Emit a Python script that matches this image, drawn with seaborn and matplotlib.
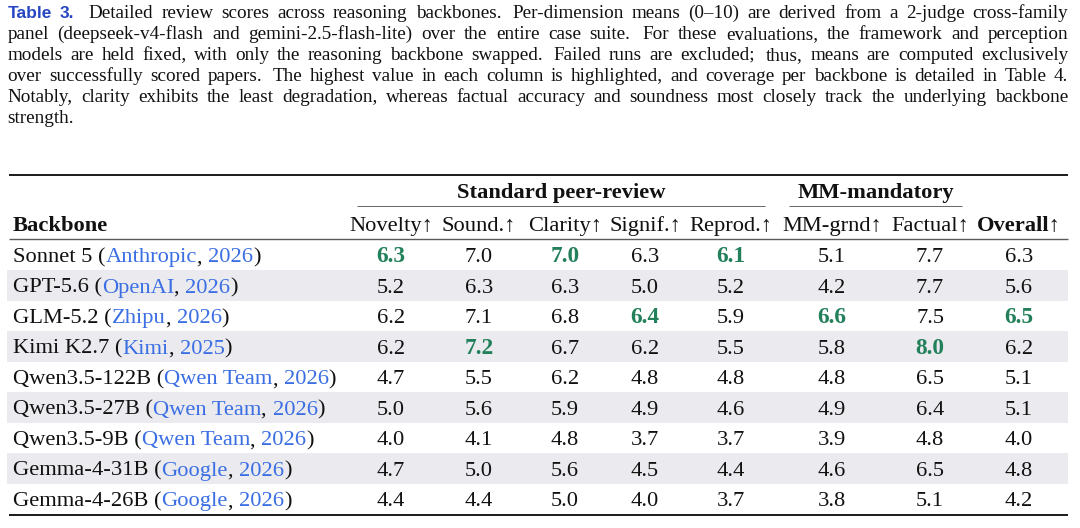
import matplotlib
matplotlib.use("Agg")
import matplotlib.pyplot as plt
import matplotlib.transforms as mtransforms
from matplotlib.colors import ListedColormap
import seaborn as sns
import numpy as np
import pandas as pd

# ---------------- data ----------------
backbones = ["Sonnet 5", "GPT-5.6", "GLM-5.2", "Kimi K2.7", "Qwen3.5-122B",
             "Qwen3.5-27B", "Qwen3.5-9B", "Gemma-4-31B", "Gemma-4-26B"]
orgs = ["Anthropic", "OpenAI", "Zhipu", "Kimi", "Qwen Team", "Qwen Team",
        "Qwen Team", "Google", "Google"]
years = ["2026", "2026", "2026", "2025", "2026", "2026", "2026", "2026", "2026"]
columns = ["Novelty", "Sound.", "Clarity", "Signif.", "Reprod.", "MM-grnd",
           "Factual", "Overall"]
novelty = [6.3, 5.2, 6.2, 6.2, 4.7, 5.0, 4.0, 4.7, 4.4]
soundness = [7.0, 6.3, 7.1, 7.2, 5.5, 5.6, 4.1, 5.0, 4.4]
clarity = [7.0, 6.3, 6.8, 6.7, 6.2, 5.9, 4.8, 5.6, 5.0]
significance = [6.3, 5.0, 6.4, 6.2, 4.8, 4.9, 3.7, 4.5, 4.0]
reproducibility = [6.1, 5.2, 5.9, 5.5, 4.8, 4.6, 3.7, 4.4, 3.7]
mm_grounding = [5.1, 4.2, 6.6, 5.8, 4.8, 4.9, 3.9, 4.6, 3.8]
factual = [7.7, 7.7, 7.5, 8.0, 6.5, 6.4, 4.8, 6.5, 5.1]
overall = [6.3, 5.6, 6.5, 6.2, 5.1, 5.1, 4.0, 4.8, 4.2]
groups = ["Standard peer-review", "MM-mandatory"]

caption_label = "Table 3."
caption_lines = [
    "Detailed review scores across reasoning backbones. Per-dimension means (0\u201310) are derived from a 2-judge cross-family",
    "panel (deepseek-v4-flash and gemini-2.5-flash-lite) over the entire case suite. For these evaluations, the framework and perception",
    "models are held fixed, with only the reasoning backbone swapped. Failed runs are excluded; thus, means are computed exclusively",
    "over successfully scored papers. The highest value in each column is highlighted, and coverage per backbone is detailed in Table 4.",
    "Notably, clarity exhibits the least degradation, whereas factual accuracy and soundness most closely track the underlying backbone",
    "strength.",
]

df = pd.DataFrame(
    dict(zip(columns, [novelty, soundness, clarity, significance,
                       reproducibility, mm_grounding, factual, overall])),
    index=backbones)

# ---------------- style / layout ----------------
W, H = 1080, 528
SERIF = ["Liberation Serif", "DejaVu Serif"]
SANS = ["Liberation Sans", "DejaVu Sans"]
BLACK = "#111111"
LINK = "#3b6fe3"
LABEL_BLUE = "#2747c2"
GREEN = "#22805a"
STRIPE = "#ebebef"

CAP_FS = 13.8
LABEL_FS = 12.5
TAB_FS = 16.2

cap_x0, cap_x1 = 7.5, 1068
cap_base0, cap_step = 17.6, 21.0

rule_x0, rule_x1 = 9, 1068
top_rule_y, mid_rule_y, bot_rule_y = 174.5, 239.0, 514.5
body_top, body_bot = 239.5, 514.0
group_base, cmid_y, head_base = 198, 206, 231
col_x = [391, 479, 565, 645, 731, 832, 930, 1019]
group_span = [(357, 765), (789, 962)]
text_x0 = 13

sns.set_theme(style="white")
plt.rcParams["font.family"] = SERIF

fig = plt.figure(figsize=(W / 100, H / 100), dpi=100)
ax = fig.add_axes([0, 0, 1, 1])
ax.set_xlim(0, W)
ax.set_ylim(H, 0)
ax.axis("off")
ax.set_zorder(2)
ax.patch.set_alpha(0)
renderer = fig.canvas.get_renderer()


def width(txt, **kw):
    t = ax.text(0, 0, txt, **kw)
    w = t.get_window_extent(renderer).width
    t.remove()
    return w


def prefix_width(txt, **kw):
    bar = width("|", **kw)
    return width(txt + "|", **kw) - bar


# ---------------- caption (justified) ----------------
cap_kw = dict(fontsize=CAP_FS, family=SERIF, color=BLACK)
lab_kw = dict(fontsize=LABEL_FS, family=SANS, weight="bold", color=LABEL_BLUE)
for li, line in enumerate(caption_lines):
    y = cap_base0 + li * cap_step
    tokens = []
    if li == 0:
        for w_ in caption_label.split(" "):
            tokens.append((w_, lab_kw))
    for w_ in line.split(" "):
        tokens.append((w_, cap_kw))
    widths = [width(t, **k) for t, k in tokens]
    last = li == len(caption_lines) - 1
    weights = []
    for i in range(len(tokens) - 1):
        t = tokens[i][0]
        wgt = 1.0
        if li == 0 and i == 1:
            wgt = 1.8
        elif t.endswith(".") or t.endswith(";"):
            wgt = 1.4
        weights.append(wgt)
    if last:
        gap_unit = width("a a", **cap_kw) - width("aa", **cap_kw)
    else:
        gap_unit = (cap_x1 - cap_x0 - sum(widths)) / sum(weights)
    x = cap_x0
    for i, ((t, k), wd) in enumerate(zip(tokens, widths)):
        ax.text(x, y, t, ha="left", va="baseline", **k)
        if i < len(weights):
            x += wd + gap_unit * weights[i]

# ---------------- table background stripes (seaborn heatmap) ----------------
bax = fig.add_axes([(rule_x0 - 2) / W, 1 - body_bot / H,
                    (rule_x1 - rule_x0 + 2) / W, (body_bot - body_top) / H])
bax.set_zorder(1)
stripe = pd.DataFrame({"band": [i % 2 for i in range(len(backbones))]},
                      index=backbones)
sns.heatmap(stripe, cmap=ListedColormap(["white", STRIPE]), vmin=0, vmax=1,
            cbar=False, ax=bax, xticklabels=False, yticklabels=False)
bax.axis("off")

# x in pixel space of main axes, y in row space of heatmap axes
row_tr = mtransforms.blended_transform_factory(ax.transData, bax.transData)
row_px = (body_bot - body_top) / len(backbones)
base_off = 0.5 + 7.6 / row_px

# ---------------- rules ----------------
ax.plot([rule_x0, rule_x1], [top_rule_y] * 2, color="#1a1a1a", lw=1.4,
        solid_capstyle="butt")
ax.plot([rule_x0, rule_x1], [mid_rule_y] * 2, color="#5a5a5a", lw=1.0,
        solid_capstyle="butt")
ax.plot([rule_x0, rule_x1], [bot_rule_y] * 2, color="#1a1a1a", lw=1.4,
        solid_capstyle="butt")
for (gx0, gx1) in group_span:
    ax.plot([gx0, gx1], [cmid_y] * 2, color="#666666", lw=0.7,
            solid_capstyle="butt")

# ---------------- headers ----------------
tab_kw = dict(fontsize=TAB_FS, family=SERIF, color=BLACK)
for g, (gx0, gx1) in zip(groups, group_span):
    ax.text((gx0 + gx1) / 2, group_base, g, ha="center", va="baseline",
            weight="bold", **tab_kw)
ax.text(text_x0, head_base, "Backbone", ha="left", va="baseline",
        weight="bold", **tab_kw)
for j, c in enumerate(columns):
    wgt = "bold" if c == "Overall" else "normal"
    ax.text(col_x[j], head_base, c + "\u2191", ha="center", va="baseline",
            weight=wgt, **tab_kw)

# ---------------- body ----------------
col_max = df.max()
for i, name in enumerate(backbones):
    yb = i + base_off
    segs = [(name + " (", BLACK), (orgs[i], LINK), (", ", BLACK),
            (years[i], LINK), (")", BLACK)]
    acc = ""
    for s, col in segs:
        xoff = prefix_width(acc, fontsize=TAB_FS, family=SERIF) if acc else 0
        ax.text(text_x0 + xoff, yb, s, ha="left", va="baseline",
                transform=row_tr, fontsize=TAB_FS, family=SERIF, color=col)
        acc += s
    for j, c in enumerate(columns):
        v = df.loc[name, c]
        best = np.isclose(v, col_max[c])
        ax.text(col_x[j], yb, f"{v:.1f}", ha="center", va="baseline",
                transform=row_tr, fontsize=TAB_FS + (0.6 if best else 0),
                family=SERIF, weight="bold" if best else "normal",
                color=GREEN if best else BLACK)

fig.savefig("out.png", dpi=100, facecolor="white")
